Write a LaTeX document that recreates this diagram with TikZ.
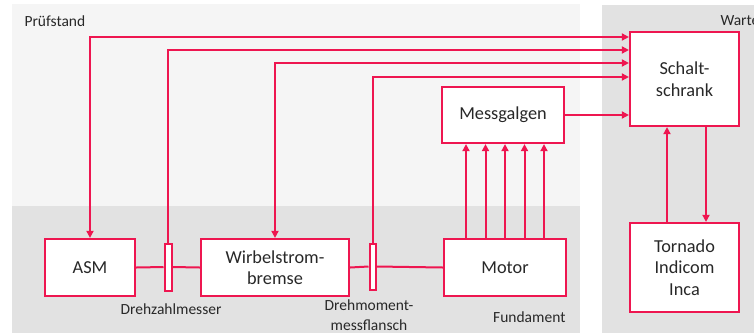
\documentclass[tikz,border=0pt]{standalone}
\usepackage{fontspec}
\setmainfont{Carlito}
\usetikzlibrary{arrows.meta}
\definecolor{sigred}{RGB}{238,22,80}
\definecolor{bglight}{RGB}{245,245,245}
\definecolor{bgdark}{RGB}{226,226,226}
\definecolor{txtgray}{RGB}{40,40,40}
\tikzset{
  unit/.style={draw=sigred, line width=2.2pt, fill=white, align=center,
    text=txtgray, font=\fontsize{18.3}{21.5}\selectfont},
  flange/.style={draw=sigred, line width=2pt, fill=white},
  sig/.style={draw=sigred, line width=2pt, >={Triangle[length=7pt,width=7pt]}},
  lbl/.style={text=txtgray, font=\fontsize{15.5}{19.5}\selectfont, align=center}
}
\begin{document}
\begin{tikzpicture}[x=1pt,y=-1pt]
\useasboundingbox (0,0) rectangle (754,333);
% Bereiche
\fill[bglight] (12,4) rectangle (580,206);
\fill[bgdark] (12,206) rectangle (580,333);
\fill[bgdark] (602,5) rectangle (754,333);

\node[lbl, anchor=west] (pruef) at (21,21) {Prüfstand};
\node[lbl, anchor=west] (warte) at (717,21) {Warte};
\node[lbl, anchor=east] (fund) at (569,317) {Fundament};

% Komponenten
\node[unit, minimum width=90pt, minimum height=57pt] (asm) at (90,267.5) {ASM};
\node[flange, minimum width=7pt, minimum height=47pt, inner sep=0pt] (zm) at (168,267) {};
\node[unit, minimum width=148pt, minimum height=57pt] (wb) at (275,267.5) {Wirbelstrom-\\bremse};
\node[flange, minimum width=6pt, minimum height=46pt, inner sep=0pt] (dm) at (372.5,266.5) {};
\node[unit, minimum width=122pt, minimum height=57pt] (motor) at (505,267.5) {Motor};
\node[unit, minimum width=122pt, minimum height=56pt] (galgen) at (503,115) {Messgalgen};
\node[unit, minimum width=109pt, minimum height=94pt] (schrank) at (684.5,79) {Schalt-\\schrank};
\node[unit, minimum width=109pt, minimum height=89pt] (tornado) at (684.5,267.5) {Tornado\\Indicom\\Inca};

\node[lbl] (zmtext) at (171,309) {Drehzahlmesser};
\node[lbl] (dmtext) at (369,315) {Drehmoment-\\messflansch};

% Welle
\draw[sig] (asm.east) -- (zm.west);
\draw[sig] (zm.east) -- (wb.west);
\draw[sig] (wb.east) -- (dm.west);
\draw[sig] (dm.east) -- (motor.west);

% Signale
\draw[sig,<->] (asm.north) |- ([yshift=42]schrank.west);
\draw[sig,->] (zm.north) |- ([yshift=29]schrank.west);
\draw[sig,<->] (wb.north) |- ([yshift=16]schrank.west);
\draw[sig,->] (dm.north) |- ([yshift=2]schrank.west);
\draw[sig,->] (galgen.east) -- (schrank.west |- galgen.east);
\foreach \dx in {-39,-19.5,0,19.5,39}
  \draw[sig,->] ([xshift=\dx]motor.north) -- ([xshift=\dx]motor.north |- galgen.south);
\draw[sig,->] ([xshift=-17.5]tornado.north) -- ([xshift=-17.5]tornado.north |- schrank.south);
\draw[sig,->] ([xshift=21.5]schrank.south) -- ([xshift=21.5]schrank.south |- tornado.north);
\end{tikzpicture}
\end{document}
